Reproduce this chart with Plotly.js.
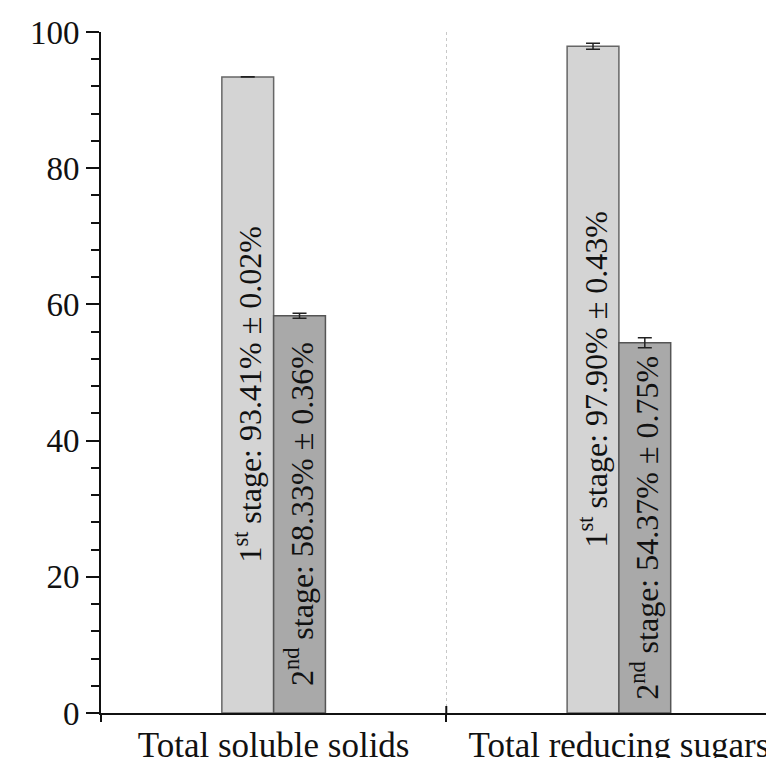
<!DOCTYPE html>
<html>
<head>
<meta charset="utf-8">
<script src="https://cdn.plot.ly/plotly-3.0.1.min.js"></script>
<style>html,body{margin:0;padding:0;background:#fff;}#chart{width:766px;height:758px;}</style>
</head>
<body>
<div id="chart"></div>
<script>
const categories = ["Total soluble solids", "Total reducing sugars"];
const stage1Values = [93.41, 97.90];
const stage1Errors = [0.02, 0.43];
const stage2Values = [58.33, 54.37];
const stage2Errors = [0.36, 0.75];
const stage1Label = "1<sup>st</sup> stage";
const stage2Label = "2<sup>nd</sup> stage";
const yTicks = [0, 20, 40, 60, 80, 100];

const fmt = v => v.toFixed(2) + "%";
const makeText = (label, vals, errs) => vals.map((v, i) => label + ": " + fmt(v) + " ± " + fmt(errs[i]));

const serif = "Liberation Serif";

const trace1 = {
  type: "bar", name: "1st stage", x: categories, y: stage1Values,
  marker: {color: "#d4d4d4", line: {color: "#666666", width: 1.5}},
  error_y: {type: "data", array: stage1Errors, visible: true, color: "#222", thickness: 1.5, width: 7},
  hoverinfo: "none"
};
const trace2 = {
  type: "bar", name: "2nd stage", x: categories, y: stage2Values,
  marker: {color: "#a9a9a9", line: {color: "#555555", width: 1.5}},
  error_y: {type: "data", array: stage2Errors, visible: true, color: "#222", thickness: 1.5, width: 7},
  hoverinfo: "none"
};

// labels placed at the middle of each bar, offset to the bar's slot in the group
const barTexts = [];
function addTexts(vals, texts, shift) {
  vals.forEach((v, i) => {
    barTexts.push({
      xref: "x", yref: "y", x: categories[i], y: v / 2,
      xshift: shift, text: texts[i], textangle: -90, showarrow: false,
      font: {family: serif, size: 32, color: "#111"}
    });
  });
}
addTexts(stage1Values, makeText(stage1Label, stage1Values, stage1Errors), -26);
addTexts(stage2Values, makeText(stage2Label, stage2Values, stage2Errors), 26);

const layout = {
  width: 766, height: 758,
  margin: {l: 101, r: 0, t: 32, b: 45},
  paper_bgcolor: "#fff", plot_bgcolor: "#fff",
  showlegend: false,
  barmode: "group",
  bargap: 0.7,
  bargroupgap: 0,
  font: {family: serif, color: "#111"},
  xaxis: {
    type: "category",
    range: [-0.5, 1.426],
    tickson: "boundaries",
    ticks: "outside", ticklen: 7, tickwidth: 2, tickcolor: "#111",
    showgrid: true, gridcolor: "#c8c8c8", griddash: "dot", gridwidth: 1,
    showline: true, linecolor: "#111", linewidth: 2,
    tickfont: {family: serif, size: 35, color: "#111"},
    zeroline: false, fixedrange: true
  },
  yaxis: {
    range: [0, 100],
    tickvals: yTicks,
    ticks: "outside", ticklen: 13, tickwidth: 2, tickcolor: "#111",
    minor: {dtick: 4, ticks: "outside", ticklen: 8, tickwidth: 2, tickcolor: "#111", showgrid: false},
    showgrid: false, zeroline: false,
    showline: true, linecolor: "#111", linewidth: 2,
    tickfont: {family: serif, size: 33, color: "#111"},
    fixedrange: true
  },
  annotations: barTexts,
  shapes: [{
    type: "line", xref: "x", yref: "y",
    ysizemode: "pixel", yanchor: 0,
    x0: 0.5, x1: 0.5, y0: 0, y1: 7,
    line: {color: "#111", width: 2}
  }]
};

Plotly.newPlot("chart", [trace1, trace2], layout, {staticPlot: true, displayModeBar: false});
</script>
</body>
</html>
